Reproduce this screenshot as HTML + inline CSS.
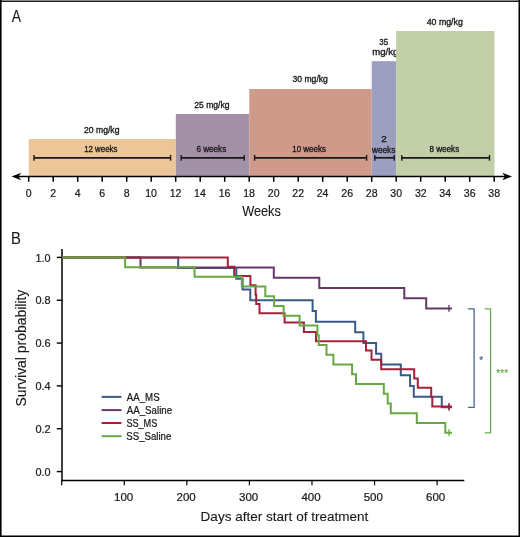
<!DOCTYPE html>
<html><head><meta charset="utf-8"><style>
html,body{margin:0;padding:0;background:#fff;}
body{width:520px;height:537px;overflow:hidden;position:relative;}
svg{position:absolute;left:0;top:0;will-change:transform;}
text{font-family:"Liberation Sans",sans-serif;fill:#1a1718;stroke:#1a1718;stroke-width:0.3px;}
</style></head><body>
<svg width="520" height="537" viewBox="0 0 520 537">
<text x="11.87" y="22.00" font-size="17" textLength="9.25" lengthAdjust="spacingAndGlyphs" style="stroke-width:0.1px">A</text>
<text x="379.30" y="44.60" font-size="8.4" textLength="8.84" lengthAdjust="spacingAndGlyphs" style="stroke-width:0.32px">35</text>
<text x="372.26" y="54.60" font-size="8.4" textLength="26.16" lengthAdjust="spacingAndGlyphs" style="stroke-width:0.32px">mg/kg</text>
<rect x="28.7" y="139.0" width="147.10" height="37.50" fill="#ecc699"/>
<rect x="175.8" y="114.0" width="73.50" height="62.50" fill="#a391a7"/>
<rect x="249.3" y="89.0" width="122.40" height="87.50" fill="#d09a8a"/>
<rect x="371.7" y="61.2" width="24.40" height="115.30" fill="#9c9fc0"/>
<rect x="396.1" y="31.0" width="98.40" height="145.50" fill="#c3cfa9"/>
<text x="84.07" y="132.50" font-size="8.3" textLength="35.39" lengthAdjust="spacingAndGlyphs" style="stroke-width:0.32px">20 mg/kg</text>
<text x="84.20" y="151.70" font-size="8.3" textLength="33.18" lengthAdjust="spacingAndGlyphs" style="stroke-width:0.32px">12 weeks</text>
<text x="194.27" y="107.50" font-size="8.3" textLength="35.18" lengthAdjust="spacingAndGlyphs" style="stroke-width:0.32px">25 mg/kg</text>
<text x="196.49" y="151.70" font-size="8.3" textLength="29.70" lengthAdjust="spacingAndGlyphs" style="stroke-width:0.32px">6 weeks</text>
<text x="292.57" y="82.00" font-size="8.3" textLength="35.28" lengthAdjust="spacingAndGlyphs" style="stroke-width:0.32px">30 mg/kg</text>
<text x="292.29" y="151.80" font-size="8.3" textLength="33.59" lengthAdjust="spacingAndGlyphs" style="stroke-width:0.32px">10 weeks</text>
<text x="426.70" y="24.80" font-size="8.3" textLength="36.17" lengthAdjust="spacingAndGlyphs" style="stroke-width:0.32px">40 mg/kg</text>
<text x="381.20" y="141.70" font-size="8.3" textLength="5.49" lengthAdjust="spacingAndGlyphs" style="stroke-width:0.32px">2</text>
<text x="372.01" y="152.60" font-size="8.3" textLength="23.28" lengthAdjust="spacingAndGlyphs" style="stroke-width:0.32px">weeks</text>
<text x="429.45" y="151.80" font-size="8.3" textLength="29.75" lengthAdjust="spacingAndGlyphs" style="stroke-width:0.32px">8 weeks</text>
<line x1="34.0" y1="157.8" x2="170.6" y2="157.8" stroke="#1a1718" stroke-width="1.7"/>
<line x1="34.0" y1="154.9" x2="34.0" y2="160.70000000000002" stroke="#1a1718" stroke-width="1.4"/>
<line x1="170.6" y1="154.9" x2="170.6" y2="160.70000000000002" stroke="#1a1718" stroke-width="1.4"/>
<line x1="181.2" y1="157.8" x2="244.2" y2="157.8" stroke="#1a1718" stroke-width="1.7"/>
<line x1="181.2" y1="154.9" x2="181.2" y2="160.70000000000002" stroke="#1a1718" stroke-width="1.4"/>
<line x1="244.2" y1="154.9" x2="244.2" y2="160.70000000000002" stroke="#1a1718" stroke-width="1.4"/>
<line x1="254.6" y1="157.8" x2="366.6" y2="157.8" stroke="#1a1718" stroke-width="1.7"/>
<line x1="254.6" y1="154.9" x2="254.6" y2="160.70000000000002" stroke="#1a1718" stroke-width="1.4"/>
<line x1="366.6" y1="154.9" x2="366.6" y2="160.70000000000002" stroke="#1a1718" stroke-width="1.4"/>
<line x1="374.8" y1="157.8" x2="394.2" y2="157.8" stroke="#1a1718" stroke-width="1.7"/>
<line x1="374.8" y1="154.9" x2="374.8" y2="160.70000000000002" stroke="#1a1718" stroke-width="1.4"/>
<line x1="394.2" y1="154.9" x2="394.2" y2="160.70000000000002" stroke="#1a1718" stroke-width="1.4"/>
<line x1="401.8" y1="157.8" x2="489.5" y2="157.8" stroke="#1a1718" stroke-width="1.7"/>
<line x1="401.8" y1="154.9" x2="401.8" y2="160.70000000000002" stroke="#1a1718" stroke-width="1.4"/>
<line x1="489.5" y1="154.9" x2="489.5" y2="160.70000000000002" stroke="#1a1718" stroke-width="1.4"/>
<line x1="16" y1="176.5" x2="506" y2="176.5" stroke="#000" stroke-width="1.6"/>
<path d="M11.6 176.5 L21.1 172.8 L18.5 176.5 L21.1 180.2 Z" fill="#000"/>
<path d="M512.0 176.5 L502.3 172.8 L505.0 176.5 L502.3 180.2 Z" fill="#000"/>
<line x1="28.70" y1="176.5" x2="28.70" y2="181.8" stroke="#000" stroke-width="1.5"/>
<text x="25.76" y="196.50" font-size="11.0" textLength="5.87" lengthAdjust="spacingAndGlyphs" style="stroke-width:0.22px">0</text>
<line x1="53.20" y1="176.5" x2="53.20" y2="181.8" stroke="#000" stroke-width="1.5"/>
<text x="50.26" y="196.50" font-size="11.0" textLength="5.87" lengthAdjust="spacingAndGlyphs" style="stroke-width:0.22px">2</text>
<line x1="77.70" y1="176.5" x2="77.70" y2="181.8" stroke="#000" stroke-width="1.5"/>
<text x="74.80" y="196.50" font-size="11.0" textLength="5.87" lengthAdjust="spacingAndGlyphs" style="stroke-width:0.22px">4</text>
<line x1="102.20" y1="176.5" x2="102.20" y2="181.8" stroke="#000" stroke-width="1.5"/>
<text x="99.23" y="196.50" font-size="11.0" textLength="5.87" lengthAdjust="spacingAndGlyphs" style="stroke-width:0.22px">6</text>
<line x1="126.70" y1="176.5" x2="126.70" y2="181.8" stroke="#000" stroke-width="1.5"/>
<text x="123.76" y="196.50" font-size="11.0" textLength="5.87" lengthAdjust="spacingAndGlyphs" style="stroke-width:0.22px">8</text>
<line x1="151.20" y1="176.5" x2="151.20" y2="181.8" stroke="#000" stroke-width="1.5"/>
<text x="145.13" y="196.50" font-size="11.0" textLength="11.75" lengthAdjust="spacingAndGlyphs" style="stroke-width:0.22px">10</text>
<line x1="175.70" y1="176.5" x2="175.70" y2="181.8" stroke="#000" stroke-width="1.5"/>
<text x="169.69" y="196.50" font-size="11.0" textLength="11.75" lengthAdjust="spacingAndGlyphs" style="stroke-width:0.22px">12</text>
<line x1="200.20" y1="176.5" x2="200.20" y2="181.8" stroke="#000" stroke-width="1.5"/>
<text x="194.08" y="196.50" font-size="11.0" textLength="11.75" lengthAdjust="spacingAndGlyphs" style="stroke-width:0.22px">14</text>
<line x1="224.70" y1="176.5" x2="224.70" y2="181.8" stroke="#000" stroke-width="1.5"/>
<text x="218.66" y="196.50" font-size="11.0" textLength="11.75" lengthAdjust="spacingAndGlyphs" style="stroke-width:0.22px">16</text>
<line x1="249.20" y1="176.5" x2="249.20" y2="181.8" stroke="#000" stroke-width="1.5"/>
<text x="243.15" y="196.50" font-size="11.0" textLength="11.75" lengthAdjust="spacingAndGlyphs" style="stroke-width:0.22px">18</text>
<line x1="273.70" y1="176.5" x2="273.70" y2="181.8" stroke="#000" stroke-width="1.5"/>
<text x="267.77" y="196.50" font-size="11.0" textLength="11.75" lengthAdjust="spacingAndGlyphs" style="stroke-width:0.22px">20</text>
<line x1="298.20" y1="176.5" x2="298.20" y2="181.8" stroke="#000" stroke-width="1.5"/>
<text x="292.33" y="196.50" font-size="11.0" textLength="11.75" lengthAdjust="spacingAndGlyphs" style="stroke-width:0.22px">22</text>
<line x1="322.70" y1="176.5" x2="322.70" y2="181.8" stroke="#000" stroke-width="1.5"/>
<text x="316.72" y="196.50" font-size="11.0" textLength="11.75" lengthAdjust="spacingAndGlyphs" style="stroke-width:0.22px">24</text>
<line x1="347.20" y1="176.5" x2="347.20" y2="181.8" stroke="#000" stroke-width="1.5"/>
<text x="341.29" y="196.50" font-size="11.0" textLength="11.75" lengthAdjust="spacingAndGlyphs" style="stroke-width:0.22px">26</text>
<line x1="371.70" y1="176.5" x2="371.70" y2="181.8" stroke="#000" stroke-width="1.5"/>
<text x="365.79" y="196.50" font-size="11.0" textLength="11.75" lengthAdjust="spacingAndGlyphs" style="stroke-width:0.22px">28</text>
<line x1="396.20" y1="176.5" x2="396.20" y2="181.8" stroke="#000" stroke-width="1.5"/>
<text x="390.33" y="196.50" font-size="11.0" textLength="11.75" lengthAdjust="spacingAndGlyphs" style="stroke-width:0.22px">30</text>
<line x1="420.70" y1="176.5" x2="420.70" y2="181.8" stroke="#000" stroke-width="1.5"/>
<text x="414.89" y="196.50" font-size="11.0" textLength="11.75" lengthAdjust="spacingAndGlyphs" style="stroke-width:0.22px">32</text>
<line x1="445.20" y1="176.5" x2="445.20" y2="181.8" stroke="#000" stroke-width="1.5"/>
<text x="439.28" y="196.50" font-size="11.0" textLength="11.75" lengthAdjust="spacingAndGlyphs" style="stroke-width:0.22px">34</text>
<line x1="469.70" y1="176.5" x2="469.70" y2="181.8" stroke="#000" stroke-width="1.5"/>
<text x="463.86" y="196.50" font-size="11.0" textLength="11.75" lengthAdjust="spacingAndGlyphs" style="stroke-width:0.22px">36</text>
<line x1="494.20" y1="176.5" x2="494.20" y2="181.8" stroke="#000" stroke-width="1.5"/>
<text x="488.36" y="196.50" font-size="11.0" textLength="11.75" lengthAdjust="spacingAndGlyphs" style="stroke-width:0.22px">38</text>
<text x="242.19" y="216.30" font-size="14.2" textLength="38.66" lengthAdjust="spacingAndGlyphs" style="stroke-width:0.1px">Weeks</text>
<text x="10.88" y="244.30" font-size="17" textLength="9.90" lengthAdjust="spacingAndGlyphs" style="stroke-width:0.1px">B</text>
<line x1="62.0" y1="248.9" x2="62.0" y2="481.15" stroke="#000" stroke-width="1.5"/>
<line x1="61.25" y1="480.4" x2="464.3" y2="480.4" stroke="#000" stroke-width="1.5"/>
<line x1="56.8" y1="471.60" x2="62.0" y2="471.60" stroke="#000" stroke-width="1.4"/>
<text x="35.42" y="475.70" font-size="11.5" textLength="15.15" lengthAdjust="spacingAndGlyphs" style="stroke-width:0.22px">0.0</text>
<line x1="56.8" y1="428.76" x2="62.0" y2="428.76" stroke="#000" stroke-width="1.4"/>
<text x="35.42" y="432.86" font-size="11.5" textLength="15.28" lengthAdjust="spacingAndGlyphs" style="stroke-width:0.22px">0.2</text>
<line x1="56.8" y1="385.92" x2="62.0" y2="385.92" stroke="#000" stroke-width="1.4"/>
<text x="35.43" y="390.02" font-size="11.5" textLength="15.04" lengthAdjust="spacingAndGlyphs" style="stroke-width:0.22px">0.4</text>
<line x1="56.8" y1="343.08" x2="62.0" y2="343.08" stroke="#000" stroke-width="1.4"/>
<text x="35.42" y="347.18" font-size="11.5" textLength="15.21" lengthAdjust="spacingAndGlyphs" style="stroke-width:0.22px">0.6</text>
<line x1="56.8" y1="300.24" x2="62.0" y2="300.24" stroke="#000" stroke-width="1.4"/>
<text x="35.42" y="304.34" font-size="11.5" textLength="15.20" lengthAdjust="spacingAndGlyphs" style="stroke-width:0.22px">0.8</text>
<line x1="56.8" y1="257.40" x2="62.0" y2="257.40" stroke="#000" stroke-width="1.4"/>
<text x="35.47" y="261.50" font-size="11.5" textLength="15.10" lengthAdjust="spacingAndGlyphs" style="stroke-width:0.22px">1.0</text>
<line x1="61.70" y1="480.4" x2="61.70" y2="485.3" stroke="#000" stroke-width="1.2"/>
<line x1="124.27" y1="480.4" x2="124.27" y2="485.3" stroke="#000" stroke-width="1.2"/>
<text x="114.09" y="500.70" font-size="11.5" textLength="19.19" lengthAdjust="spacingAndGlyphs" style="stroke-width:0.22px">100</text>
<line x1="186.84" y1="480.4" x2="186.84" y2="485.3" stroke="#000" stroke-width="1.2"/>
<text x="176.59" y="500.70" font-size="11.5" textLength="19.19" lengthAdjust="spacingAndGlyphs" style="stroke-width:0.22px">200</text>
<line x1="249.41" y1="480.4" x2="249.41" y2="485.3" stroke="#000" stroke-width="1.2"/>
<text x="239.01" y="500.70" font-size="11.5" textLength="19.19" lengthAdjust="spacingAndGlyphs" style="stroke-width:0.22px">300</text>
<line x1="311.98" y1="480.4" x2="311.98" y2="485.3" stroke="#000" stroke-width="1.2"/>
<text x="301.45" y="500.70" font-size="11.5" textLength="19.19" lengthAdjust="spacingAndGlyphs" style="stroke-width:0.22px">400</text>
<line x1="374.55" y1="480.4" x2="374.55" y2="485.3" stroke="#000" stroke-width="1.2"/>
<text x="363.70" y="500.70" font-size="11.5" textLength="19.19" lengthAdjust="spacingAndGlyphs" style="stroke-width:0.22px">500</text>
<line x1="437.12" y1="480.4" x2="437.12" y2="485.3" stroke="#000" stroke-width="1.2"/>
<text x="425.99" y="500.70" font-size="11.5" textLength="19.19" lengthAdjust="spacingAndGlyphs" style="stroke-width:0.22px">600</text>
<text x="200.59" y="521.30" font-size="13.3" textLength="167.81" lengthAdjust="spacingAndGlyphs" style="stroke-width:0.1px">Days after start of treatment</text>
<text transform="translate(25.6,405.9) rotate(-90)" x="-0.63" y="0" font-size="14.2" textLength="116.76" lengthAdjust="spacingAndGlyphs" style="stroke-width:0.1px">Survival probability</text>
<path d="M62.0 257.40 H178.20 V268.11 H236.30 V278.82 H242.60 V289.53 H250.30 V300.24 H312.60 V310.95 H315.90 V321.66 H355.20 V332.37 H363.40 V343.08 H376.10 V353.79 H381.20 V364.50 H400.80 V375.21 H410.10 V385.92 H413.80 V396.63 H441.80 V407.34 H452.0" fill="none" stroke="#3a5a8a" stroke-width="2" stroke-linejoin="miter"/>
<line x1="449.0" y1="404.04" x2="449.0" y2="410.64" stroke="#3a5a8a" stroke-width="1.4"/>
<path d="M62.0 257.40 H140.50 V267.60 H273.80 V277.80 H319.30 V288.00 H404.30 V298.20 H426.20 V308.40 H452.0" fill="none" stroke="#663869" stroke-width="2" stroke-linejoin="miter"/>
<line x1="449.0" y1="305.10" x2="449.0" y2="311.70" stroke="#663869" stroke-width="1.4"/>
<path d="M62.0 257.40 H227.80 V266.71 H234.20 V276.03 H250.40 V285.34 H255.60 V294.65 H256.20 V303.97 H259.50 V313.28 H284.60 V322.59 H303.90 V331.90 H316.00 V341.22 H366.00 V350.53 H371.50 V359.84 H381.20 V369.16 H414.20 V378.47 H417.80 V387.78 H431.20 V397.10 H432.30 V406.41 H452.0" fill="none" stroke="#a3223a" stroke-width="2" stroke-linejoin="miter"/>
<line x1="449.0" y1="403.11" x2="449.0" y2="409.71" stroke="#a3223a" stroke-width="1.4"/>
<path d="M62.0 257.40 H125.10 V267.14 H194.60 V276.87 H241.80 V286.61 H265.30 V296.35 H274.10 V306.08 H283.60 V315.82 H299.60 V325.55 H317.40 V335.29 H318.70 V345.03 H326.50 V354.76 H333.40 V364.50 H352.10 V374.24 H356.00 V383.97 H383.80 V393.71 H387.70 V403.45 H390.80 V413.18 H416.80 V422.92 H445.30 V432.65 H452.0" fill="none" stroke="#68a843" stroke-width="2" stroke-linejoin="miter"/>
<line x1="449.0" y1="429.35" x2="449.0" y2="435.95" stroke="#68a843" stroke-width="1.4"/>
<line x1="101.6" y1="396.9" x2="121.5" y2="396.9" stroke="#3a5a8a" stroke-width="2"/>
<text x="126.78" y="400.50" font-size="10" textLength="32.86" lengthAdjust="spacingAndGlyphs" style="stroke-width:0.22px">AA_MS</text>
<line x1="101.6" y1="410.1" x2="121.5" y2="410.1" stroke="#663869" stroke-width="2"/>
<text x="126.78" y="413.70" font-size="10" textLength="45.35" lengthAdjust="spacingAndGlyphs" style="stroke-width:0.22px">AA_Saline</text>
<line x1="101.6" y1="423.0" x2="121.5" y2="423.0" stroke="#a3223a" stroke-width="2"/>
<text x="126.39" y="426.60" font-size="10" textLength="30.93" lengthAdjust="spacingAndGlyphs" style="stroke-width:0.22px">SS_MS</text>
<line x1="101.6" y1="436.2" x2="121.5" y2="436.2" stroke="#68a843" stroke-width="2"/>
<text x="126.36" y="439.80" font-size="10" textLength="44.97" lengthAdjust="spacingAndGlyphs" style="stroke-width:0.22px">SS_Saline</text>
<path d="M467.9 308.9 H474.1 V407.3 H467.9" fill="none" stroke="#4b6792" stroke-width="1.3"/>
<path d="M484.8 308.9 H490.6 V432.8 H484.8" fill="none" stroke="#6dab4e" stroke-width="1.3"/>
<text x="481.2" y="364.1" font-size="10" text-anchor="middle" style="fill:#4b6792;stroke:#4b6792;stroke-width:0.2px">*</text>
<text x="502.2" y="377.4" font-size="10" text-anchor="middle" style="fill:#6dab4e;stroke:#6dab4e;stroke-width:0.2px">***</text>
<rect x="0" y="0" width="520" height="1" fill="#888"/>
<rect x="0" y="1" width="520" height="0.9" fill="#000"/>
<rect x="0" y="0" width="1.6" height="537" fill="#000"/>
<rect x="518.5" y="0" width="1.5" height="537" fill="#000"/>
<rect x="0" y="535.5" width="520" height="1.5" fill="#000"/>
</svg>
</body></html>
